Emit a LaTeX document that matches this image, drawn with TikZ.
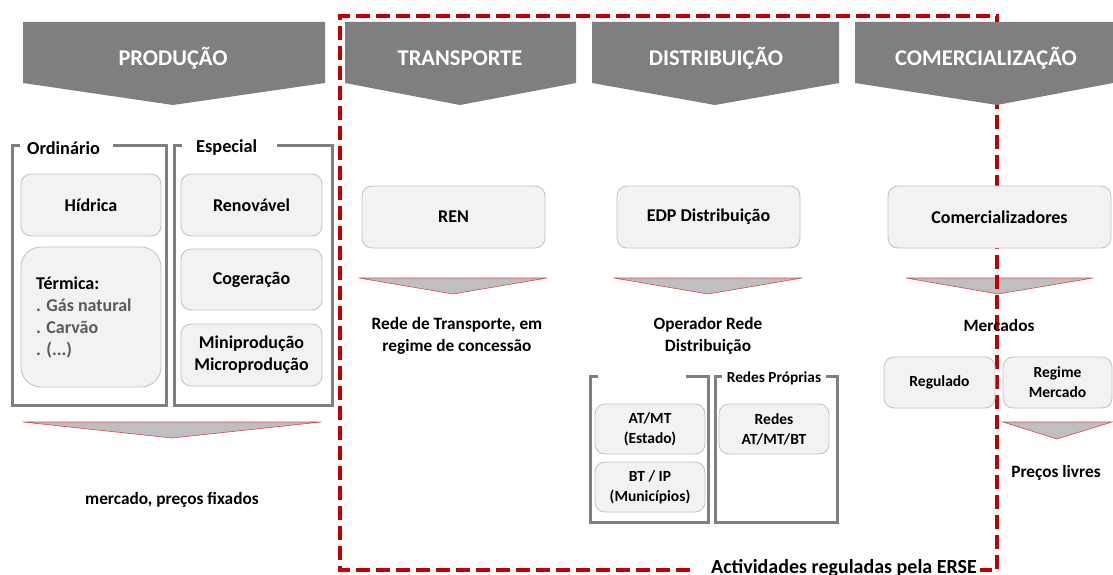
\documentclass[tikz,border=0pt]{standalone}
\usepackage{fontspec}
\setmainfont{Carlito}
\definecolor{hdrgray}{HTML}{7F7F7F}
\definecolor{boxfill}{HTML}{F2F2F2}
\definecolor{boxline}{HTML}{C4C4C4}
\definecolor{trifill}{HTML}{BFBFBF}
\definecolor{triline}{HTML}{D9474A}
\definecolor{ersered}{HTML}{C00000}
\definecolor{subgray}{HTML}{595959}
\tikzset{
  hdrshape/.style={fill=hdrgray},
  hdrtext/.style={text=white,font=\bfseries\fontsize{22.5}{26}\selectfont},
  boxnode/.style={draw=boxline,fill=boxfill,line width=0.9pt,rounded corners=10pt,align=center,
    font=\bfseries\fontsize{18}{22}\selectfont,inner sep=0pt},
  smallbox/.style={boxnode,font=\bfseries\fontsize{15.5}{20}\selectfont},
  trishape/.style={fill=trifill,draw=triline,line width=0.6pt},
  frameline/.style={draw=hdrgray,line width=3pt},
  labeltext/.style={align=center,font=\bfseries\fontsize{17.3}{22}\selectfont},
  frametitle/.style={font=\bfseries\fontsize{18.3}{20}\selectfont,inner sep=0pt},
  ersebox/.style={draw=ersered,line width=3.5pt,dash pattern=on 14pt off 6pt}
}
\begin{document}
\begin{tikzpicture}[x=1pt,y=-1pt]
\useasboundingbox (0,0) rectangle (1113,575);

% triangles
\path[trishape] (23,422) -- (321,422) -- (172,438) -- cycle;
\path[trishape] (359,278) -- (547,278) -- (453,294) -- cycle;
\path[trishape] (614,278) -- (802,278) -- (708,294) -- cycle;
\path[trishape] (906,278) -- (1093,278) -- (998,294) -- cycle;
\path[trishape] (1003,422) -- (1112,422) -- (1057,439) -- cycle;

% ERSE dashed frame (open where the label sits)
\coordinate (e1) at (690,570);
\coordinate (e2) at (340,570);
\coordinate (e3) at (340,16);
\coordinate (e4) at (997,16);
\coordinate (e5) at (997,570);
\coordinate (e6) at (980,570);
\draw[ersebox] (e1) -- (e2) -- (e3) -- (e4) -- (e5) -- (e6);

% headers
\path[hdrshape] (23,22) -- (325,22) -- (325,83) -- (173,105) -- (23,83) -- cycle;
\path[hdrshape] (345,22) -- (576,22) -- (576,83) -- (460,105) -- (345,83) -- cycle;
\path[hdrshape] (592,22) -- (839,22) -- (839,83) -- (715,105) -- (592,83) -- cycle;
\path[hdrshape] (855,22) -- (1113,22) -- (1113,83) -- (997,105) -- (855,83) -- cycle;
\node[hdrtext] (hprod) at (173,58) {PRODUÇÃO};
\node[hdrtext] (htrans) at (460,58) {TRANSPORTE};
\node[hdrtext] (hdist) at (716,58) {DISTRIBUIÇÃO};
\node[hdrtext] (hcom) at (986,58) {COMERCIALIZAÇÃO};

% frames
\draw[frameline] (20,145) -- (12,145) -- (12,405) -- (166,405) -- (166,145) -- (113,145);
\draw[frameline] (182,145) -- (174,145) -- (174,405) -- (332,405) -- (332,145) -- (277,145);
\draw[frameline] (598,376) -- (590,376) -- (590,522) -- (708,522) -- (708,376) -- (686,376);
\draw[frameline] (722,376) -- (715,376) -- (715,522) -- (837,522) -- (837,376) -- (826,376);
\node[frametitle,anchor=west] (tord) at (27,148) {Ordinário};
\node[frametitle,anchor=west] (tesp) at (196,148) {Especial};
\node[frametitle,font=\bfseries\fontsize{15.3}{16}\selectfont] (tred) at (774,378) {Redes Próprias};

% production boxes
\node[boxnode,minimum width=140pt,minimum height=62pt] (hid) at (91,205) {Hídrica};
\node[boxnode,minimum width=140pt,minimum height=140pt,rounded corners=20pt] (term) at (91,317) {};
\node[anchor=west,align=left,font=\bfseries\fontsize{18}{22}\selectfont,inner sep=0pt] (termtxt) at (36,318)
  {Térmica:\\\textcolor{subgray}{. Gás natural}\\\textcolor{subgray}{. Carvão}\\\textcolor{subgray}{. (...)}};
\node[boxnode,minimum width=141pt,minimum height=62pt] (ren) at (251.5,205) {Renovável};
\node[boxnode,minimum width=141pt,minimum height=61pt] (cog) at (251.5,279.5) {Cogeração};
\node[boxnode,minimum width=141pt,minimum height=62pt] (mini) at (251.5,355) {Miniprodução\\Microprodução};
\node[labeltext] (mpf) at (172,500) {mercado, preços fixados};

% transport
\node[boxnode,minimum width=183pt,minimum height=62pt] (renb) at (453.5,217) {REN};
\node[labeltext] (rtxt) at (457,336) {Rede de Transporte, em\\regime de concessão};

% distribution
\node[boxnode,minimum width=183pt,minimum height=62pt] (edp) at (708.5,217) {EDP Distribuição};
\node[labeltext] (otxt) at (708,336) {Operador Rede\\Distribuição};
\node[smallbox,minimum width=110pt,minimum height=50pt] (atmt) at (650,429) {AT/MT\\(Estado)};
\node[smallbox,minimum width=110pt,minimum height=50pt] (btip) at (650,487) {BT / IP\\(Municípios)};
\node[smallbox,minimum width=110pt,minimum height=50pt] (redes) at (774,429) {Redes\\AT/MT/BT};

% commercialisation
\node[boxnode,minimum width=223pt,minimum height=62pt] (comb) at (999.5,217) {Comercializadores};
\node[labeltext] (merc) at (999,325) {Mercados};
\node[smallbox,minimum width=111pt,minimum height=51pt] (reg) at (939.5,382.5) {Regulado};
\node[smallbox,minimum width=109pt,minimum height=51pt] (rmerc) at (1057.5,382.5) {Regime\\Mercado};
\node[labeltext] (plv) at (1056,473) {Preços livres};

% bottom label
\node[anchor=base,inner sep=0pt,font=\bfseries\fontsize{20}{22}\selectfont] (erse) at (844,573) {Actividades reguladas pela ERSE};
\end{tikzpicture}
\end{document}
